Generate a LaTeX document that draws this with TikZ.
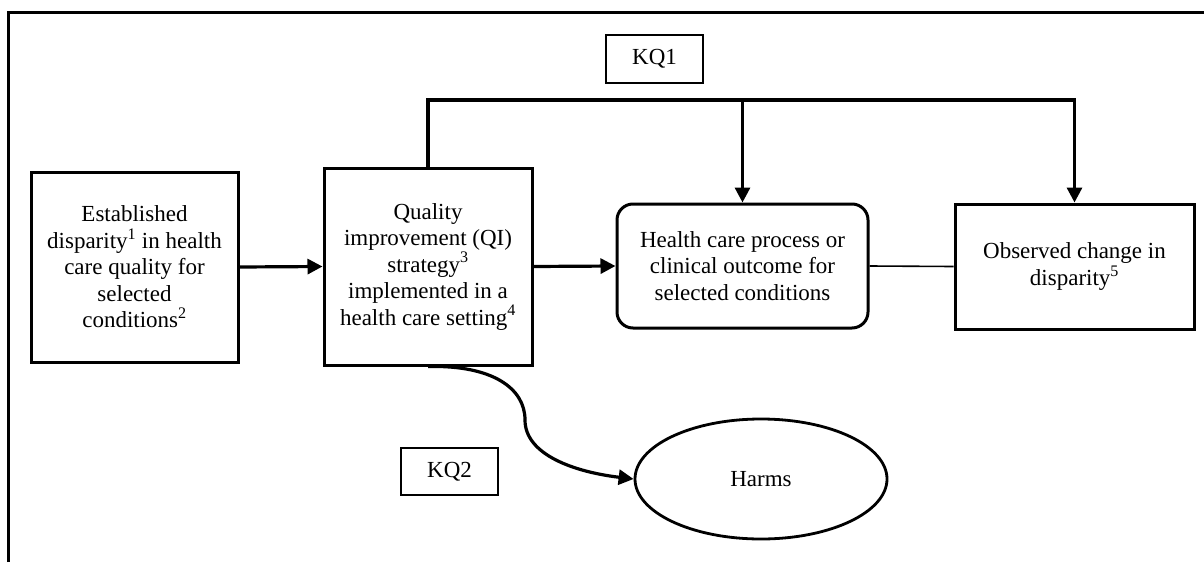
\documentclass[tikz,border=0pt]{standalone}
\usepackage{fontspec}
\setmainfont{Liberation Serif}
\usetikzlibrary{arrows.meta,shapes.geometric}
\tikzset{
  txt/.style={font=\fontsize{23}{26.5}\selectfont, align=center, text=black},
  boxnode/.style={txt, draw, line width=3pt, inner sep=0pt},
  kqbox/.style={txt, draw, line width=2.6pt, inner sep=0pt},
  arr/.style={line width=3.2pt, -{Triangle[length=15pt,width=15pt]}},
  thinline/.style={line width=1.6pt},
}
\begin{document}
\begin{tikzpicture}[x=1pt,y=-1pt]
\useasboundingbox (0,0) rectangle (1204,562);
% partial outer frame
\draw[line width=3pt] (8,562) -- (8,12) -- (1204,12);

\node[boxnode, minimum width=207pt, minimum height=190pt] (est) at (134.5,267)
  {Established\\disparity\textsuperscript{1} in health\\care quality for\\selected\\conditions\textsuperscript{2}};
\node[boxnode, minimum width=208pt, minimum height=197pt] (qi) at (428,266.5)
  {Quality\\improvement (QI)\\strategy\textsuperscript{3}\\implemented in a\\health care setting\textsuperscript{4}};
\node[boxnode, rounded corners=16pt, minimum width=251pt, minimum height=124pt] (proc) at (742.5,266)
  {Health care process or\\clinical outcome for\\selected conditions};
\node[boxnode, minimum width=239pt, minimum height=125pt] (obs) at (1074.5,266.5)
  {Observed change in\\disparity\textsuperscript{5}};
\node[kqbox, minimum width=97pt, minimum height=48pt] (kq1) at (654.5,59) {KQ1};
\node[kqbox, minimum width=97pt, minimum height=47pt] (kq2) at (449.5,471.5) {KQ2};
\node[txt, draw, ellipse, line width=2.8pt, inner sep=0pt, minimum width=252pt, minimum height=120pt] (harms) at (761,479) {Harms};

\coordinate (tr) at (1074.5,100);
\coordinate (tm) at (742.5,100);
\coordinate (bend) at (525,420);

\draw[arr] (est.east) -- (qi.west);
\draw[arr] (qi.east) -- (proc.west);
\draw[thinline] (proc.east) -- (obs.west);
\draw[arr] (qi.north) |- (tr) -- (obs.north);
\draw[arr] (tm) -- (proc.north);
\draw[arr] (qi.south) .. controls (492,365) and (525,388) .. (bend)
  .. controls (525,455) and (575,472) .. (harms.west);
\end{tikzpicture}
\end{document}
